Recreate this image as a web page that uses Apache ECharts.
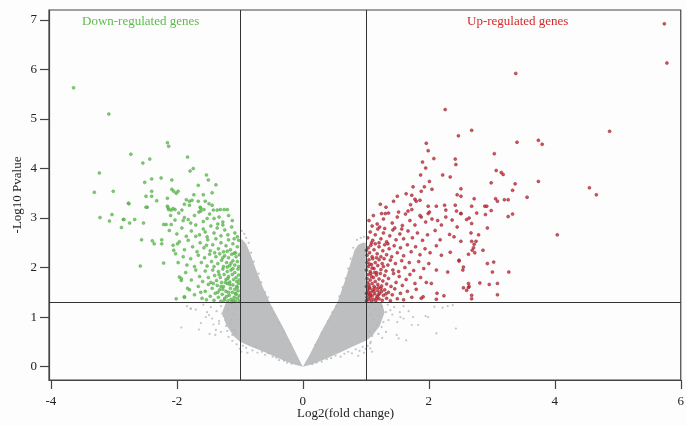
<!DOCTYPE html>
<html>
<head>
<meta charset="utf-8">
<script src="https://cdn.jsdelivr.net/npm/echarts@6/dist/echarts.min.js"></script>
<style>
  html, body { margin: 0; padding: 0; background: #fdfdfd; }
  #chart { width: 687px; height: 426px; }
</style>
</head>
<body>
<div id="chart"></div>
<script>
// axis ticks
const xTicks = [-4, -2, 0, 2, 4, 6];
const yTicks = [0, 1, 2, 3, 4, 5, 6, 7];
const cutoffFC = [-1, 1];
const cutoffP = 1.3;

// dense grey band (outline of the V)
const greyLeftArm = [[0,0],[-0.08,0.2],[-0.3,0.76],[-0.52,1.28],[-0.64,1.62],[-0.75,1.98],[-0.84,2.3],[-0.9,2.48],[-0.96,2.56],[-1.0,2.58],
  [-1.0,1.3],[-1.22,1.3],[-1.28,1.1],[-1.22,0.85],[-1.1,0.62],[-1.0,0.5],[-0.8,0.39],[-0.6,0.29],[-0.35,0.15],[-0.15,0.05]];
const greyRightArm = [[0,0],[0.1,0.22],[0.3,0.72],[0.55,1.3],[0.66,1.7],[0.76,2.1],[0.82,2.35],[0.88,2.46],[0.95,2.5],[1.0,2.5],
  [1.0,1.3],[1.25,1.3],[1.3,1.1],[1.22,0.82],[1.1,0.62],[1.0,0.52],[0.8,0.41],[0.6,0.29],[0.35,0.15],[0.15,0.05]];

// scattered grey genes around the band
const greyPoints = [
  [-0.95,0.42],[-0.9,0.38],[-0.85,0.45],[-0.8,0.33],[-0.75,0.4],[-0.72,0.28],[-0.65,0.3],[-0.6,0.24],[-0.55,0.27],[-0.48,0.2],
  [-0.42,0.18],[-0.38,0.13],[-0.3,0.12],[-0.25,0.08],[-0.18,0.06],[-1.0,0.36],[-0.98,0.3],[-0.88,0.28],[-1.05,0.45],[-1.12,0.52],
  [0.15,0.05],[0.22,0.08],[0.3,0.1],[0.38,0.15],[0.45,0.17],[0.52,0.22],[0.6,0.2],[0.66,0.26],[0.72,0.3],[0.78,0.27],
  [0.84,0.35],[0.9,0.32],[0.95,0.4],[1.0,0.36],[1.03,0.42],[0.97,0.28],[0.88,0.22],[1.08,0.5],[1.1,0.3],
  [-0.5,1.18],[-0.55,1.4],[-0.6,1.5],[-0.66,1.7],[-0.7,1.88],[-0.78,2.12],[-0.82,2.3],[-0.86,2.5],[-0.9,2.6],[-0.93,2.68],
  [-0.97,2.74],[-0.45,1.05],[-0.38,0.88],[-0.3,0.7],[-0.2,0.45],
  [0.2,0.44],[0.3,0.68],[0.4,0.92],[0.47,1.1],[0.53,1.22],[0.58,1.42],[0.63,1.6],[0.68,1.78],[0.72,1.98],[0.76,2.18],
  [0.8,2.4],[0.86,2.56],[0.92,2.6],[0.97,2.62],
  [1.05,1.2],[1.08,1.05],[1.12,0.95],[1.15,1.15],[1.18,0.85],[1.22,1.02],[1.25,1.22],[1.28,0.9],[1.32,1.1],[1.35,1.25],
  [1.42,1.05],[1.45,1.2],[1.5,0.9],[1.55,1.0],[1.6,1.22],[1.68,1.12],[1.75,1.0],[1.06,0.7],[1.1,0.62],[1.14,0.75],
  [1.2,0.66],[1.26,0.58],
  [2.09,1.21],[2.22,1.19],[2.3,1.22],[2.38,1.24],[1.95,1.02],[1.99,1.0],[2.43,0.77],[2.12,0.67],[1.64,0.53],[1.49,0.64],
  [1.52,0.57],[1.73,0.84],[1.83,0.84],[1.6,0.97],[1.36,0.94],[1.25,0.8],[1.07,0.47],[1.07,0.37],[1.32,0.7],[1.39,1.14],
  [1.54,1.1],
  [-1.05,1.2],[-1.1,1.05],[-1.14,0.95],[-1.18,1.15],[-1.22,0.82],[-1.26,1.02],[-1.3,1.22],[-1.33,0.92],[-1.37,1.12],[-1.42,0.85],
  [-1.46,1.2],[-1.52,1.1],[-1.58,1.25],[-1.62,0.88],[-1.7,1.15],[-1.78,1.17],[-1.08,0.72],[-1.12,0.64],[-1.2,0.72],[-1.3,0.7],
  [-1.48,0.66],[-1.84,1.22],
  [-1.49,1.04],[-1.28,1.07],[-1.23,0.94],[-1.15,0.87],[-1.1,0.74],[-1.07,0.67],[-1.33,0.87],[-1.93,0.79],[-1.65,0.75],[-1.54,1.0],
  [-1.44,0.97],[-1.38,0.74],[-1.18,0.6],[-1.78,1.17],[-1.39,0.64]
];

// down-regulated genes (log2FC < -1, p < 0.05)
const downGenes = [
  [-3.64,5.63],[-3.08,5.1],[-2.15,4.52],[-2.13,4.45],[-2.73,4.29],[-2.54,4.11],[-2.43,4.19],[-1.83,4.23],[-1.74,4.0],[-1.79,3.95],
  [-3.23,3.91],[-1.53,3.87],[-1.5,3.77],[-2.4,3.79],[-2.25,3.81],[-2.08,3.77],[-2.51,3.72],[-1.66,3.66],[-1.38,3.67],[-3.31,3.52],
  [-3.01,3.54],[-2.08,3.58],[-2.05,3.54],[-2.01,3.5],[-1.98,3.54],[-2.4,3.54],[-1.73,3.47],[-1.58,3.47],[-1.44,3.51],
  [-2.4,3.44],[-2.49,3.44],[-2.32,3.35],[-2.15,3.4],[-2.77,3.3],[-2.47,3.22],[-2.15,3.24],[-2.13,3.17],[-2.09,3.16],[-2.03,3.17],
  [-1.85,3.37],[-1.8,3.34],[-1.76,3.36],[-1.88,3.28],[-1.8,3.26],[-1.66,3.34],[-1.55,3.34],[-1.49,3.29],[-1.63,3.22],[-1.57,3.17],
  [-1.44,3.26],[-1.42,3.16],[-1.36,3.16],[-1.31,3.17],[-1.25,3.17],[-1.2,3.17],[-1.62,3.14],[-3.22,3.01],[-3.03,3.07],[-2.85,2.97],
  [-2.67,2.97],[-1.88,3.01],[-1.82,2.97],[-1.52,2.99],[-1.41,2.99],[-3.07,2.94],[-2.84,2.97],[-2.75,2.9],[-2.88,2.81],[-2.53,2.9],
  [-2.49,3.22],[-2.76,3.29],[-2.56,2.56],[-2.39,2.54],[-2.36,2.48],[-2.24,2.56],[-2.24,2.48],[-2.58,2.03],[-2.21,2.09],
  [-2.21,2.87],[-2.17,2.87],[-2.09,2.87],[-2.14,3.21],[-2.06,3.19],[-1.92,3.16],[-2.05,2.35],[-2.02,2.28],[-1.99,2.48],
  [-1.96,1.81],[-1.93,1.74],[-2.01,1.37],[-1.88,1.41],[-1.83,1.58],
  [-2.1,3.05],[-1.97,3.1],[-1.9,2.95],[-1.72,3.05],[-1.65,3.12],[-1.58,2.93],[-1.48,3.08],[-1.33,3.02],[-1.27,2.92],[-1.18,3.05],
  [-1.12,2.95],[-1.35,2.88],[-1.62,3.2],[-1.78,2.9],[-2.03,2.96],
  [-2.12,2.75],[-2.0,2.68],[-1.92,2.8],[-1.85,2.63],[-1.77,2.74],[-1.7,2.86],[-1.64,2.66],[-1.58,2.78],[-1.52,2.62],[-1.46,2.84],
  [-1.41,2.7],[-1.36,2.8],[-1.3,2.64],[-1.24,2.76],[-1.19,2.66],[-1.13,2.82],[-1.08,2.7],[-1.04,2.62],[-1.55,2.72],[-1.27,2.86],
  [-1.7,2.63],
  [-2.06,2.45],[-1.96,2.52],[-1.88,2.36],[-1.82,2.55],[-1.75,2.42],[-1.68,2.32],[-1.63,2.5],[-1.57,2.4],[-1.51,2.56],[-1.47,2.34],
  [-1.43,2.46],[-1.38,2.58],[-1.34,2.38],[-1.3,2.5],[-1.26,2.32],[-1.22,2.44],[-1.18,2.56],[-1.15,2.36],[-1.11,2.48],[-1.07,2.3],
  [-1.04,2.42],[-1.02,2.55],[-1.2,2.33],[-1.09,2.58],[-1.4,2.3],[-1.53,2.45],
  [-1.98,2.1],[-1.9,2.22],[-1.84,2.05],[-1.78,2.18],[-1.72,2.02],[-1.66,2.25],[-1.61,2.1],[-1.56,2.2],[-1.52,2.03],[-1.48,2.27],
  [-1.45,2.12],[-1.41,2.02],[-1.38,2.22],[-1.35,2.08],[-1.32,2.28],[-1.29,2.15],[-1.26,2.02],[-1.24,2.24],[-1.21,2.1],[-1.18,2.2],
  [-1.16,2.04],[-1.13,2.27],[-1.11,2.14],[-1.08,2.05],[-1.06,2.22],[-1.04,2.12],[-1.02,2.02],[-1.01,2.26],[-1.14,2.09],[-1.27,2.2],
  [-1.09,2.29],[-1.2,2.01],
  [-1.93,1.78],[-1.86,1.9],[-1.77,1.75],[-1.7,1.95],[-1.64,1.82],[-1.59,1.72],[-1.55,1.93],[-1.5,1.8],[-1.46,1.7],[-1.43,1.95],
  [-1.4,1.84],[-1.37,1.74],[-1.34,1.92],[-1.31,1.8],[-1.29,1.7],[-1.27,1.97],[-1.25,1.86],[-1.22,1.76],[-1.2,1.92],[-1.18,1.82],
  [-1.16,1.71],[-1.14,1.95],[-1.12,1.86],[-1.1,1.76],[-1.08,1.9],[-1.06,1.8],[-1.05,1.72],[-1.03,1.97],[-1.02,1.85],[-1.01,1.75],
  [-1.23,1.7],[-1.33,1.86],[-1.11,1.98],[-1.19,1.78],
  [-1.88,1.4],[-1.8,1.55],[-1.72,1.45],[-1.66,1.62],[-1.6,1.38],[-1.55,1.52],[-1.5,1.66],[-1.47,1.42],[-1.44,1.58],[-1.41,1.34],
  [-1.39,1.48],[-1.36,1.64],[-1.34,1.4],[-1.32,1.55],[-1.3,1.32],[-1.28,1.46],[-1.26,1.62],[-1.24,1.38],[-1.22,1.52],[-1.2,1.68],
  [-1.19,1.33],[-1.17,1.44],[-1.15,1.58],[-1.14,1.36],[-1.12,1.5],[-1.11,1.65],[-1.09,1.4],[-1.08,1.56],[-1.07,1.32],[-1.06,1.46],
  [-1.05,1.62],[-1.04,1.38],[-1.03,1.53],[-1.02,1.68],[-1.01,1.43],[-1.01,1.33],[-1.13,1.31],[-1.21,1.42],[-1.27,1.56],[-1.35,1.5],
  [-1.16,1.66],[-1.1,1.34],[-1.04,1.6],[-1.25,1.34],[-1.42,1.68],[-1.53,1.35],[-1.62,1.5],[-1.18,1.5],[-1.07,1.48],[-1.3,1.62]
];

// up-regulated genes (log2FC > 1, p < 0.05)
const upGenes = [
  [5.74,6.92],[5.78,6.13],[3.38,5.92],[2.26,5.19],[2.68,4.77],[2.47,4.66],[4.87,4.75],[3.4,4.53],[3.74,4.57],[3.8,4.49],
  [1.96,4.51],[1.99,4.36],[2.08,4.2],[3.04,4.3],[2.42,4.19],[2.43,4.08],[1.9,4.13],[1.95,4.01],[3.07,3.96],[3.15,3.92],
  [3.18,3.88],[2.22,3.87],[2.34,3.83],[1.87,3.87],[2.01,3.74],[2.99,3.71],[3.37,3.69],[3.33,3.56],[3.74,3.74],[4.55,3.61],
  [4.66,3.47],[1.75,3.63],[1.93,3.63],[2.05,3.58],[1.88,3.54],[2.51,3.59],[1.5,3.44],[1.64,3.49],[1.73,3.46],[1.78,3.38],
  [2.45,3.47],[2.51,3.44],[2.72,3.39],[3.06,3.39],[3.2,3.37],[3.26,3.37],[3.56,3.42],[3.09,3.34],
  [2.68,3.24],[2.76,3.1],[2.89,3.24],[2.92,3.24],[2.9,3.07],[2.99,3.15],[3.26,3.03],[3.33,3.08],[2.64,3.0],[2.68,2.89],
  [2.93,2.8],[2.79,2.66],[4.04,2.66],[2.68,2.53],[2.75,2.53],[2.72,2.47],[2.71,2.4],[2.73,2.3],[2.63,2.27],[2.86,2.35],
  [2.93,2.08],[3.03,2.11],[3.01,1.91],[3.27,1.91],[2.63,1.68],[2.81,1.69],[2.96,1.66],[3.09,1.68],[2.63,1.6],[2.68,1.44],
  [3.09,1.45],[2.68,1.37],
  [1.44,3.34],[1.32,3.22],[1.23,3.28],[1.71,3.27],[1.8,3.34],[1.86,3.36],[1.99,3.24],[2.12,3.24],[2.25,3.26],[2.42,3.26],
  [2.44,3.14],[1.25,3.09],[1.31,3.09],[1.52,3.12],[1.67,3.14],[1.73,3.17],[2.01,3.12],[2.27,3.16],[2.51,3.09],
  [2.33,2.67],[2.51,2.53],[2.67,2.7],[2.34,2.31],[2.48,2.15],[2.3,1.91],[2.54,1.95],[2.64,1.62],[2.04,1.68],[2.12,1.95],
  [2.13,1.48],[1.91,1.41],[2.55,1.59],[2.6,1.54],[1.88,3.02],[1.99,3.09],[2.14,2.95],[2.27,3.02],[2.51,3.09],[2.6,2.97],
  [2.55,2.01],[2.48,2.13],[2.24,1.43],[2.12,1.36],[2.69,2.35],
  [1.05,2.95],[1.12,3.05],[1.18,2.88],[1.28,2.98],[1.36,3.1],[1.42,2.9],[1.5,3.02],[1.58,2.85],[1.63,3.08],[1.7,2.95],
  [1.78,2.86],[1.86,3.05],[1.95,2.92],[1.22,2.82],[1.46,2.8],[1.1,2.84],[2.05,2.98],[2.2,2.86],[2.37,2.96],[2.45,2.82],
  [1.03,2.6],[1.07,2.72],[1.11,2.55],[1.15,2.66],[1.19,2.78],[1.24,2.58],[1.28,2.7],[1.33,2.52],[1.38,2.64],[1.43,2.76],
  [1.48,2.56],[1.54,2.68],[1.6,2.58],[1.67,2.74],[1.74,2.6],[1.82,2.7],[1.9,2.55],[1.98,2.66],[2.1,2.75],[2.18,2.56],
  [2.4,2.62],[1.3,2.79],[1.09,2.5],[1.21,2.5],[1.57,2.78],
  [1.02,2.25],[1.04,2.4],[1.06,2.3],[1.08,2.45],[1.1,2.22],[1.13,2.36],[1.15,2.48],[1.18,2.28],[1.21,2.42],[1.24,2.22],
  [1.27,2.34],[1.3,2.46],[1.33,2.26],[1.37,2.38],[1.41,2.22],[1.45,2.44],[1.5,2.3],[1.55,2.4],[1.6,2.24],[1.66,2.46],
  [1.72,2.32],[1.79,2.42],[1.86,2.26],[1.94,2.38],[2.02,2.3],[2.12,2.44],[2.2,2.25],[1.17,2.2],[1.35,2.48],[1.01,2.35],
  [1.01,1.95],[1.02,2.1],[1.04,2.02],[1.05,2.16],[1.07,1.92],[1.09,2.06],[1.11,2.18],[1.13,1.98],[1.15,2.1],[1.17,1.9],
  [1.19,2.04],[1.21,2.16],[1.24,1.96],[1.26,2.08],[1.29,2.18],[1.32,1.93],[1.35,2.05],[1.39,2.15],[1.43,1.95],[1.47,2.08],
  [1.52,1.92],[1.57,2.14],[1.62,2.0],[1.69,2.1],[1.76,1.94],[1.84,2.12],[1.92,1.98],[2.0,2.08],[1.1,1.99],[1.28,2.02],
  [1.06,2.07],
  [1.01,1.62],[1.02,1.78],[1.03,1.7],[1.04,1.86],[1.05,1.65],[1.07,1.75],[1.08,1.88],[1.1,1.68],[1.12,1.8],[1.13,1.62],
  [1.15,1.72],[1.17,1.85],[1.19,1.66],[1.21,1.77],[1.23,1.88],[1.25,1.63],[1.27,1.73],[1.3,1.84],[1.33,1.67],[1.36,1.78],
  [1.4,1.62],[1.44,1.88],[1.48,1.7],[1.53,1.82],[1.58,1.64],[1.64,1.76],[1.7,1.86],[1.78,1.68],[1.87,1.8],[1.96,1.7],
  [1.09,1.82],[1.14,1.9],[1.2,1.6],[1.06,1.6],
  [1.01,1.33],[1.01,1.48],[1.02,1.4],[1.03,1.55],[1.04,1.35],[1.05,1.45],[1.06,1.58],[1.07,1.38],[1.08,1.5],[1.09,1.32],
  [1.1,1.43],[1.11,1.55],[1.12,1.36],[1.14,1.47],[1.15,1.58],[1.16,1.33],[1.18,1.42],[1.19,1.53],[1.21,1.37],[1.22,1.48],
  [1.24,1.58],[1.26,1.34],[1.28,1.44],[1.3,1.55],[1.33,1.38],[1.36,1.5],[1.39,1.33],[1.42,1.45],[1.46,1.57],[1.5,1.37],
  [1.55,1.48],[1.6,1.35],[1.66,1.52],[1.73,1.4],[1.8,1.56],[1.88,1.38],[1.13,1.52],[1.04,1.5],[1.2,1.45],[1.25,1.52],
  [1.07,1.44],[1.17,1.38],[1.32,1.47]
];

const FONT = '"Liberation Serif", "Times New Roman", serif';
const chart = echarts.init(document.getElementById('chart'));
const arms = [greyLeftArm, greyRightArm];

chart.setOption({
  animation: false,
  backgroundColor: '#fdfdfd',
  grid: { left: 49, right: 1, top: 10, bottom: 46, show: true, borderColor: '#444', borderWidth: 1.2 },
  xAxis: {
    type: 'value', min: -4.03, max: 6,
    axisLine: { show: true, onZero: false, lineStyle: { color: '#444', width: 1.2 } },
    axisTick: { show: true, length: 9, customValues: xTicks, lineStyle: { color: '#444', width: 1.2 } },
    axisLabel: { customValues: xTicks, color: '#222', fontFamily: FONT, fontSize: 13, margin: 15 },
    splitLine: { show: false }
  },
  yAxis: {
    type: 'value', min: -0.27, max: 7.2,
    name: '-Log10 Pvalue', nameLocation: 'middle', nameGap: 25, nameMoveOverlap: false,
    nameTextStyle: { color: '#222', fontFamily: FONT, fontSize: 13 },
    axisLine: { show: true, onZero: false, lineStyle: { color: '#444', width: 1.2 } },
    axisTick: { show: true, length: 9, customValues: yTicks, lineStyle: { color: '#444', width: 1.2 } },
    axisLabel: { customValues: yTicks, color: '#222', fontFamily: FONT, fontSize: 13, margin: 12 },
    splitLine: { show: false }
  },
  graphic: [
    { type: 'text', left: 297, top: 407, style: { text: 'Log2(fold change)', fill: '#222', font: '13px ' + FONT } },
    { type: 'text', left: 82, top: 15, style: { text: 'Down-regulated genes', fill: '#5dbb4c', font: '13px ' + FONT } },
    { type: 'text', left: 467, top: 15, style: { text: 'Up-regulated genes', fill: '#d42a2a', font: '13px ' + FONT } }
  ],
  series: [
    {
      type: 'custom',
      data: [0, 1],
      renderItem: function (params, api) {
        const pts = arms[params.dataIndex].map(function (p) { return api.coord(p); });
        return { type: 'polygon', shape: { points: pts }, style: { fill: '#bdbebf' } };
      },
      silent: true
    },
    {
      type: 'scatter', data: greyPoints, symbolSize: 2.2, silent: true,
      itemStyle: { color: '#b5b6b8' }
    },
    {
      type: 'scatter', data: downGenes, symbolSize: 3, silent: true,
      itemStyle: { color: '#5cc04a', borderColor: '#4c9a45', borderWidth: 0.5 }
    },
    {
      type: 'scatter', data: upGenes, symbolSize: 3, silent: true,
      itemStyle: { color: '#d8232c', borderColor: '#7a2a38', borderWidth: 0.6 },
      markLine: {
        silent: true, symbol: ['none', 'none'], label: { show: false },
        lineStyle: { color: '#333', width: 1, type: 'solid' },
        data: [{ xAxis: cutoffFC[0] }, { xAxis: cutoffFC[1] }, { yAxis: cutoffP }]
      }
    }
  ]
});
</script>
</body>
</html>
